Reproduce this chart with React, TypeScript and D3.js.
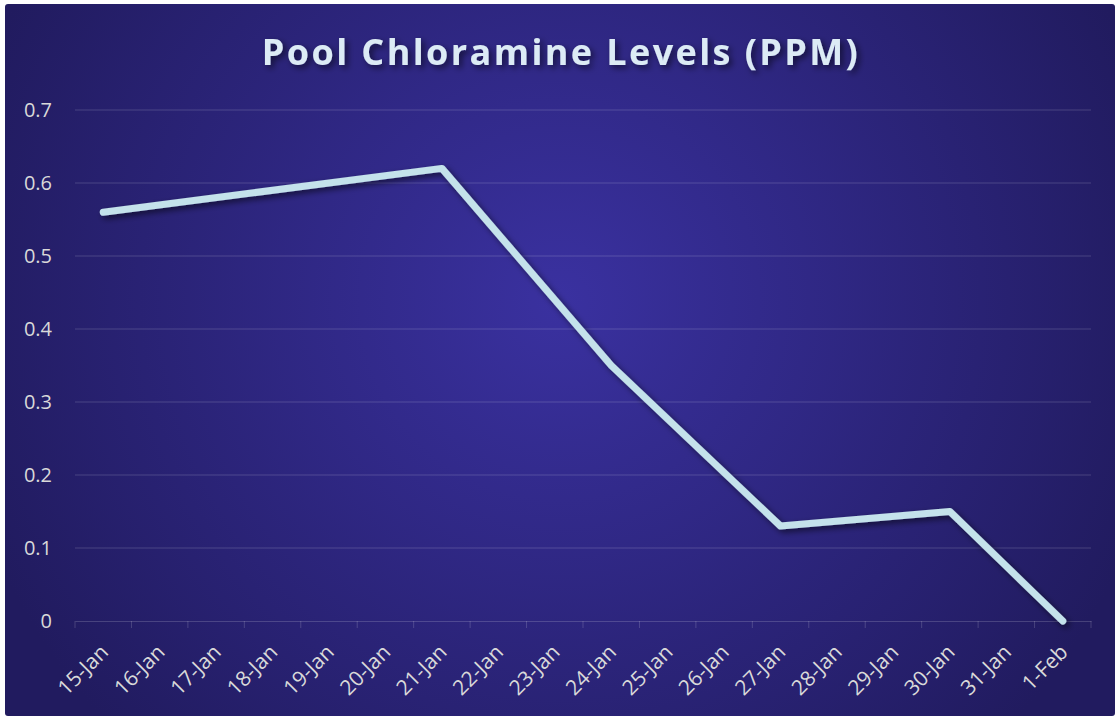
import React, { useRef, useEffect } from "react";
import * as d3 from "d3";

const dates = [
  "15-Jan", "16-Jan", "17-Jan", "18-Jan", "19-Jan", "20-Jan", "21-Jan", "22-Jan", "23-Jan",
  "24-Jan", "25-Jan", "26-Jan", "27-Jan", "28-Jan", "29-Jan", "30-Jan", "31-Jan", "1-Feb",
];
const readingDates = ["15-Jan", "21-Jan", "24-Jan", "27-Jan", "30-Jan", "1-Feb"];
const readingValues = [0.56, 0.62, 0.35, 0.13, 0.15, 0];
const yTicks = [0, 0.1, 0.2, 0.3, 0.4, 0.5, 0.6, 0.7];

const W = 1117;
const H = 719;

const App = () => {
  const ref = useRef<SVGSVGElement>(null);

  useEffect(() => {
    const svg = d3.select(ref.current);
    svg.selectAll("*").remove();

    const margin = { top: 110, right: 26, bottom: 98, left: 75 };
    const labelFont = "'Open Sans', 'DejaVu Sans', sans-serif";

    const defs = svg.append("defs");
    const grad = defs
      .append("radialGradient")
      .attr("id", "bg")
      .attr("gradientUnits", "userSpaceOnUse")
      .attr("cx", 560)
      .attr("cy", 300)
      .attr("r", 620);
    grad.append("stop").attr("offset", "0%").attr("stop-color", "#3a31a0");
    grad.append("stop").attr("offset", "100%").attr("stop-color", "#211b5f");

    const shadow = defs.append("filter").attr("id", "shadow").attr("x", "-10%").attr("y", "-10%").attr("width", "120%").attr("height", "120%");
    shadow
      .append("feDropShadow")
      .attr("dx", 3)
      .attr("dy", 3)
      .attr("stdDeviation", 3)
      .attr("flood-color", "#000")
      .attr("flood-opacity", 0.55);

    svg
      .append("rect")
      .attr("x", 5)
      .attr("y", 4)
      .attr("width", 1110)
      .attr("height", 712)
      .attr("rx", 3)
      .attr("fill", "url(#bg)");

    const x = d3
      .scaleBand()
      .domain(dates)
      .range([margin.left, W - margin.right])
      .padding(0);

    const y = d3
      .scaleLinear()
      .domain([0, 0.7])
      .range([H - margin.bottom, margin.top]);

    // gridlines
    svg
      .append("g")
      .selectAll("line")
      .data(yTicks.filter((t) => t > 0))
      .join("line")
      .attr("x1", margin.left)
      .attr("x2", W - margin.right)
      .attr("y1", (d) => y(d))
      .attr("y2", (d) => y(d))
      .attr("stroke", "rgba(255,255,255,0.17)")
      .attr("stroke-width", 1);

    // y labels
    svg
      .append("g")
      .selectAll("text")
      .data(yTicks)
      .join("text")
      .attr("x", 52)
      .attr("y", (d) => y(d))
      .attr("dy", "0.36em")
      .attr("text-anchor", "end")
      .attr("fill", "#d9d9d9")
      .attr("font-family", labelFont)
      .attr("font-size", 20)
      .text((d) => (d === 0 ? "0" : d3.format(".1f")(d)));

    // x axis
    const xAxis = svg
      .append("g")
      .attr("transform", `translate(0,${y(0)})`)
      .call(
        d3
          .axisBottom(x)
          .tickSize(0)
          .tickFormat(() => "")
      );
    xAxis.select(".domain").attr("stroke", "rgba(255,255,255,0.17)");
    xAxis.selectAll(".tick").remove();

    const boundaries = dates.map((d) => x(d) as number).concat([W - margin.right]);
    svg
      .append("g")
      .selectAll("line")
      .data(boundaries)
      .join("line")
      .attr("x1", (d) => d)
      .attr("x2", (d) => d)
      .attr("y1", y(0))
      .attr("y2", y(0) + 7)
      .attr("stroke", "rgba(255,255,255,0.17)");

    svg
      .append("g")
      .selectAll("text")
      .data(dates)
      .join("text")
      .attr(
        "transform",
        (d) => `translate(${(x(d) as number) + x.bandwidth() / 2 + 1},${y(0) + 27}) rotate(-45)`
      )
      .attr("text-anchor", "end")
      .attr("dy", "0.36em")
      .attr("fill", "#d9d9d9")
      .attr("font-family", labelFont)
      .attr("font-size", 21)
      .text((d) => d);

    // line
    const pts = readingDates.map((d, i) => ({ d, v: readingValues[i] }));
    const line = d3
      .line<{ d: string; v: number }>()
      .x((p) => (x(p.d) as number) + x.bandwidth() / 2)
      .y((p) => y(p.v));

    svg
      .append("path")
      .datum(pts)
      .attr("d", line)
      .attr("fill", "none")
      .attr("stroke", "#c4e2eb")
      .attr("stroke-width", 7)
      .attr("stroke-linecap", "round")
      .attr("stroke-linejoin", "round")
      .attr("filter", "url(#shadow)");

    // title
    svg
      .append("text")
      .attr("x", 561)
      .attr("y", 52)
      .attr("dy", "0.35em")
      .attr("text-anchor", "middle")
      .attr("fill", "#dcebf5")
      .attr("font-family", labelFont)
      .attr("font-weight", 700)
      .attr("font-size", 36)
      .attr("letter-spacing", 2.4)
      .attr("filter", "url(#shadow)")
      .text("Pool Chloramine Levels (PPM)");
  }, []);

  return (
    <svg
      ref={ref}
      width={W}
      height={H}
      style={{ position: "absolute", left: 0, top: 0, display: "block" }}
    />
  );
};

export default App;
